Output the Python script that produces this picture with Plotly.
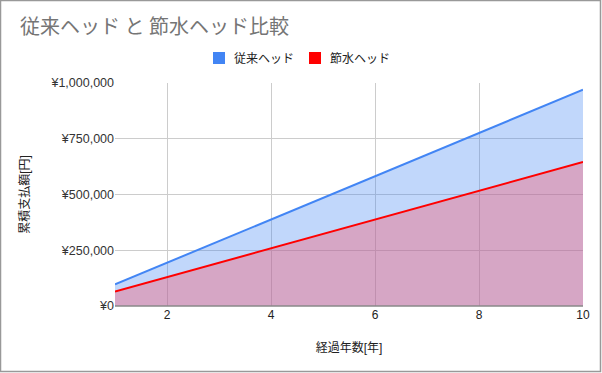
import plotly.graph_objects as go

years = [1, 2, 3, 4, 5, 6, 7, 8, 9, 10]
conventional = [97000, 194000, 291000, 388000, 485000, 582000, 679000, 776000, 873000, 970000]
saving = [64600, 129200, 193800, 258400, 323000, 387600, 452200, 516800, 581400, 646000]
y_ticks = [0, 250000, 500000, 750000, 1000000]
y_tick_labels = ["¥0", "¥250,000", "¥500,000", "¥750,000", "¥1,000,000"]
x_ticks = [2, 4, 6, 8, 10]
series_names = ["従来ヘッド", "節水ヘッド"]

BLUE = "#4285F4"
RED = "#FF0000"
FONT = "Liberation Sans, Arial, Noto Sans CJK JP, sans-serif"

fig = go.Figure()
fig.add_trace(go.Scatter(x=years, y=conventional, mode="lines", fill="tozeroy", name=series_names[0],
                         line=dict(color=BLUE, width=2), fillcolor="rgba(66,133,244,0.33)",
                         showlegend=False, hoverinfo="skip"))
fig.add_trace(go.Scatter(x=years, y=saving, mode="lines", fill="tozeroy", name=series_names[1],
                         line=dict(color=RED, width=2), fillcolor="rgba(255,75,96,0.35)",
                         showlegend=False, hoverinfo="skip"))

L, R, T, B = 115, 19, 83, 67
W, H = 602, 373
pw, ph = W - L - R, H - T - B


def px(x):
    return (x - L) / pw


def py(y):
    return (H - B - y) / ph


shapes = [
    dict(type="line", xref="paper", yref="paper", x0=0, x1=1, y0=0, y1=0,
         line=dict(color="#888888", width=1.5)),
    dict(type="rect", xref="paper", yref="paper",
         x0=px(0.5), x1=px(600.5), y0=py(371.5), y1=py(0.5),
         line=dict(color="#999999", width=1.5), fillcolor="rgba(0,0,0,0)", layer="above"),
]
annotations = []
legend_items = [(series_names[0], BLUE, 213), (series_names[1], RED, 309)]
for name, col, x0 in legend_items:
    shapes.append(dict(type="rect", xref="paper", yref="paper",
                       x0=px(x0), x1=px(x0 + 12), y0=py(64), y1=py(52),
                       line=dict(width=0), fillcolor=col))
    annotations.append(dict(text=name, xref="paper", yref="paper", x=px(x0 + 19), y=py(58),
                            xanchor="left", yanchor="middle", showarrow=False,
                            font=dict(size=12, color="#222222", family="Noto Sans CJK JP, sans-serif")))

fig.update_layout(
    width=W, height=H,
    margin=dict(l=L, r=R, t=T, b=B, autoexpand=False),
    paper_bgcolor="white", plot_bgcolor="white",
    showlegend=False,
    font=dict(family=FONT, size=12, color="#222222"),
    title=dict(text="従来ヘッド と 節水ヘッド比較", x=20 / W, xanchor="left",
               y=1 - 27 / H, yanchor="middle",
               font=dict(size=20, color="#757575", family="Noto Sans CJK JP, sans-serif")),
    xaxis=dict(range=[1, 10], tickvals=x_ticks, showgrid=True, gridcolor="#cccccc",
               zeroline=False, showline=False, ticks="",
               tickfont=dict(size=12, color="#222222"),
               title=dict(text="経過年数[年]", font=dict(size=12, color="#222222"), standoff=22)),
    yaxis=dict(range=[0, 1000000], tickvals=y_ticks, ticktext=y_tick_labels,
               showgrid=True, gridcolor="#cccccc", zeroline=False,
               showline=False, ticks="",
               tickfont=dict(size=12.5, color="#333333"),
               title=dict(text="累積支払額[円]", font=dict(size=12, color="#222222"), standoff=18)),
    shapes=shapes,
    annotations=annotations,
)

fig.write_html("out.html", config={"displayModeBar": False},
               post_script="document.body.style.margin='0';document.body.style.overflow='hidden';")
